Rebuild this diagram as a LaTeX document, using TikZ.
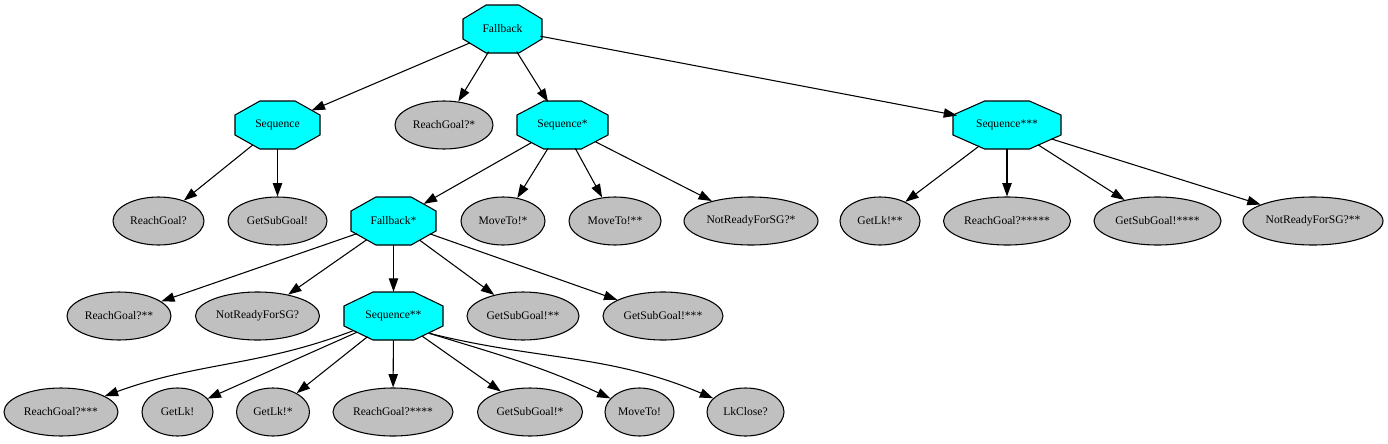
\documentclass[tikz,border=0pt]{standalone}
\usepackage{fontspec}
\setmainfont{Liberation Serif}
\usetikzlibrary{shapes.geometric,arrows.meta}
\definecolor{nodegray}{RGB}{192,192,192}
\definecolor{octcyan}{RGB}{0,255,255}
\newcommand\octnode[5]{%
  \begin{scope}[shift={(#2,#3)}]
    \filldraw[octshape] (-0.207*#4,-24) -- (0.207*#4,-24) -- (0.5*#4,-10) -- (0.5*#4,10)
      -- (0.207*#4,24) -- (-0.207*#4,24) -- (-0.5*#4,10) -- (-0.5*#4,-10) -- cycle;
  \end{scope}
  \node[octlabel, nw=#4] (#1) at (#2,#3) {#5};
}
\begin{document}
\begin{tikzpicture}[x=0.75pt,y=-0.75pt,
  nw/.style={minimum width=#1*0.75pt},
  lbl/.style={font=\fontsize{8.7pt}{10pt}\selectfont, text=black},
  leaf/.style={lbl, ellipse, draw=black, line width=0.8pt, fill=nodegray, inner sep=0pt, minimum height=36pt},
  octlabel/.style={lbl, ellipse, inner sep=0pt, minimum height=36pt},
  octshape/.style={fill=octcyan, draw=black, line width=0.8pt},
  edge/.style={draw=black, line width=0.8pt, -{Triangle[length=10pt,width=7pt]}},
]
\useasboundingbox (0,0) rectangle (1388,443);

% row 1
\octnode{fb}{502.5}{29}{79}{Fallback}
% row 2
\octnode{seq}{277.5}{125}{85}{Sequence}
\node[leaf,nw=98] (rg1) at (444,125) {ReachGoal?*};
\octnode{seq1}{562.5}{125}{91}{Sequence*}
\octnode{seq3}{1007}{125}{108}{Sequence***}
% row 3
\node[leaf,nw=91]  (rg0) at (158.5,221) {ReachGoal?};
\node[leaf,nw=99]  (gs0) at (277.5,221) {GetSubGoal!};
\octnode{fb1}{393.5}{221}{85}{Fallback*}
\node[leaf,nw=84]  (mt1) at (503,221) {MoveTo!*};
\node[leaf,nw=92]  (mt2) at (615,221) {MoveTo!**};
\node[leaf,nw=134] (nr1) at (751,221) {NotReadyForSG?*};
\node[leaf,nw=80]  (gl2) at (880,221) {GetLk!**};
\node[leaf,nw=127] (rg5) at (1007,221) {ReachGoal?*****};
\node[leaf,nw=127] (gs4) at (1157.5,221) {GetSubGoal!****};
\node[leaf,nw=140] (nr2) at (1313,221) {NotReadyForSG?**};
% row 4
\node[leaf,nw=104] (rg2) at (119,316) {ReachGoal?**};
\node[leaf,nw=124] (nr0) at (257.5,316) {NotReadyForSG?};
\octnode{seq2}{393.5}{316}{99}{Sequence**}
\node[leaf,nw=112] (gs2) at (523,316) {GetSubGoal!**};
\node[leaf,nw=120] (gs3) at (663,316) {GetSubGoal!***};
% row 5
\node[leaf,nw=114] (rg3) at (61,412) {ReachGoal?***};
\node[leaf,nw=71]  (gl0) at (177.5,412) {GetLk!};
\node[leaf,nw=73]  (gl1) at (273,412) {GetLk!*};
\node[leaf,nw=120] (rg4) at (393,412) {ReachGoal?****};
\node[leaf,nw=105] (gs1) at (530,412) {GetSubGoal!*};
\node[leaf,nw=69]  (mt0) at (639.5,412) {MoveTo!};
\node[leaf,nw=77]  (lk)  at (745.5,412) {LkClose?};

% edges
\draw[edge] (fb) -- (seq);
\draw[edge] (fb) -- (rg1);
\draw[edge] (fb) -- (seq1);
\draw[edge] (fb) -- (seq3);
\draw[edge] (seq) -- (rg0);
\draw[edge] (seq) -- (gs0);
\draw[edge] (seq1) -- (fb1);
\draw[edge] (seq1) -- (mt1);
\draw[edge] (seq1) -- (mt2);
\draw[edge] (seq1) -- (nr1);
\draw[edge] (seq3) -- (gl2);
\draw[edge] (seq3) -- (rg5);
\draw[edge] (seq3) -- (gs4);
\draw[edge] (seq3) -- (nr2);
\draw[edge] (fb1) -- (rg2);
\draw[edge] (fb1) -- (nr0);
\draw[edge] (fb1) -- (seq2);
\draw[edge] (fb1) -- (gs2);
\draw[edge] (fb1) -- (gs3);
\draw[edge] (seq2.200) to[out=201,in=20] (rg3);
\draw[edge] (seq2) -- (gl0);
\draw[edge] (seq2) -- (gl1);
\draw[edge] (seq2) -- (rg4);
\draw[edge] (seq2) -- (gs1);
\draw[edge] (seq2.-26) to[out=-17,in=155] (mt0);
\draw[edge] (seq2.-26) to[out=-14,in=157] (lk);
\end{tikzpicture}
\end{document}
